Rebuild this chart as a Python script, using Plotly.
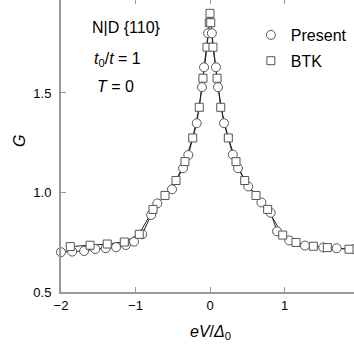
import plotly.graph_objects as go

# Present (circles)
present_x = [-2.0, -1.85, -1.69, -1.54, -1.40, -1.26, -1.13, -1.02, -0.91, -0.79, -0.707, -0.51,
             -0.362, -0.291, -0.178, -0.108, -0.08, -0.025,
             0.025, 0.08, 0.108, 0.188, 0.306, 0.376, 0.514, 0.69, 0.815, 0.90, 1.064, 1.275,
             1.52, 1.70, 1.93]
present_g = [0.700, 0.703, 0.706, 0.716, 0.720, 0.725, 0.736, 0.753, 0.790, 0.887, 0.945, 1.016,
             1.122, 1.188, 1.348, 1.529, 1.629, 1.800,
             1.800, 1.629, 1.529, 1.348, 1.190, 1.122, 1.030, 0.950, 0.898, 0.805, 0.759, 0.733,
             0.724, 0.720, 0.715]

# BTK (squares)
btk_x = [-1.875, -1.61, -1.38, -1.15, -0.95, -0.765, -0.604, -0.456, -0.336, -0.232, -0.144,
         -0.095, -0.04, -0.01, 0.0, 0.01, 0.04, 0.095, 0.144, 0.246, 0.349, 0.466, 0.617, 0.774,
         0.976, 1.154, 1.387, 1.575, 1.866]
btk_g = [0.728, 0.735, 0.741, 0.751, 0.790, 0.915, 0.985, 1.060, 1.155, 1.274, 1.428,
         1.574, 1.730, 1.853, 1.900, 1.853, 1.730, 1.574, 1.428, 1.274, 1.155, 1.060, 0.985, 0.915,
         0.786, 0.749, 0.730, 0.723, 0.715]

x_ticks = [-2, -1, 0, 1]
y_ticks = [0.5, 1.0, 1.5]
y_tick_text = ["0.5", "1.0", "1.5"]

FONT = "Liberation Sans, Arial, Helvetica, sans-serif"
EDGE = "#555555"
AX = "#999999"

fig = go.Figure()
for xs, ys in [(present_x, present_g), (btk_x, btk_g)]:
    fig.add_trace(go.Scatter(x=xs, y=ys, mode="lines", line=dict(color="#222222", width=1),
                             showlegend=False, hoverinfo="skip", cliponaxis=False))
# invisible carrier so the top tick axis is drawn
fig.add_trace(go.Scatter(x=present_x, y=present_g, mode="lines", xaxis="x2", opacity=0,
                         line=dict(width=0), showlegend=False, hoverinfo="skip"))
fig.add_trace(go.Scatter(x=present_x, y=present_g, mode="markers", name="Present",
                         legendgroup="a",
                         marker=dict(symbol="circle", size=9, color="white",
                                     line=dict(color=EDGE, width=1)), cliponaxis=False))
fig.add_trace(go.Scatter(x=btk_x, y=btk_g, mode="markers", name="BTK", legendgroup="b",
                         marker=dict(symbol="square", size=8, color="white",
                                     line=dict(color=EDGE, width=1)), cliponaxis=False))

fig.update_layout(
    width=354, height=354,
    margin=dict(l=61, r=0, t=0, b=62, autoexpand=False),
    paper_bgcolor="white", plot_bgcolor="white",
    font=dict(family=FONT, size=13, color="black"),
    showlegend=True,
    legend=dict(x=0.648, y=1 - 18 / 292, xanchor="left", yanchor="top",
                bgcolor="rgba(0,0,0,0)", font=dict(size=16), traceorder="grouped",
                tracegroupgap=2),
    xaxis=dict(range=[-2, 1.933], tickvals=x_ticks, ticks="inside", ticklen=5,
               tickcolor=AX, showline=True, linecolor=AX, linewidth=2,
               showgrid=False, zeroline=False, tickfont=dict(size=13), automargin=False),
    xaxis2=dict(range=[-2, 1.933], tickvals=x_ticks, ticks="inside", ticklen=4,
                tickcolor=AX, showline=False, overlaying="x", side="top",
                showticklabels=False, showgrid=False, zeroline=False, automargin=False),
    yaxis=dict(range=[0.5, 1.967], tickvals=y_ticks, ticktext=y_tick_text, ticks="inside",
               ticklen=5, tickcolor=AX, showline=True, linecolor=AX, linewidth=2,
               showgrid=False, zeroline=False, tickfont=dict(size=13), automargin=False,
               ticklabelstandoff=5),
)

annots = [("N|D {110}", 0.10, 27), ("<i>t</i><sub>0</sub>/<i>t</i> = 1", 0.105, 60),
          ("<i>T</i> = 0", 0.115, 86)]
for txt, xp, ypx in annots:
    fig.add_annotation(text=txt, xref="paper", yref="paper", x=xp, y=1 - ypx / 292,
                       xanchor="left", yanchor="middle", showarrow=False,
                       font=dict(size=16, family=FONT))

# axis titles
fig.add_annotation(text="<i>eV</i>/<i>Δ</i><sub>0</sub>", xref="x", yref="paper", x=0,
                   y=-(332 - 292) / 292, xanchor="center", yanchor="middle", showarrow=False,
                   font=dict(size=16, family=FONT))
fig.add_annotation(text="<i>G</i>", xref="paper", yref="paper", x=-(61 - 19) / 293,
                   y=1 - 141 / 292, xanchor="center", yanchor="middle", showarrow=False,
                   textangle=-90, font=dict(size=16, family=FONT))

fig.write_html("out.html", config={"displayModeBar": False},
               post_script="document.body.style.margin='0';")
